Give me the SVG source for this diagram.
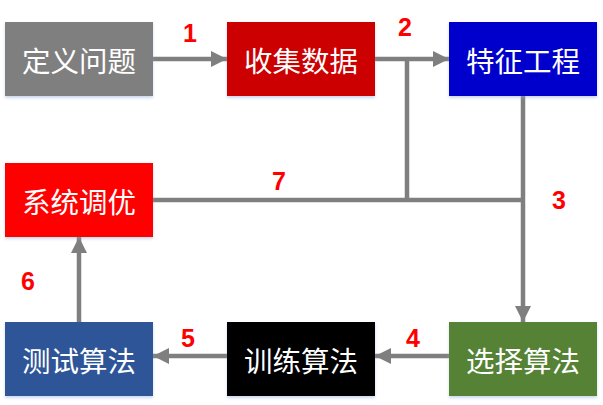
<svg xmlns="http://www.w3.org/2000/svg" width="603" height="405" viewBox="0 0 603 405">
<defs>
<filter id="sh" x="-10%" y="-10%" width="120%" height="130%">
<feDropShadow dx="0" dy="2" stdDeviation="1.5" flood-color="#8fa8d8" flood-opacity="0.45"/>
</filter>
<marker id="ah" markerWidth="16" markerHeight="16" viewBox="0 0 16 16" refX="16" refY="8" orient="auto" markerUnits="userSpaceOnUse">
<path d="M0,0 L16,8 L0,16 Z" fill="#7f7f7f"/>
</marker>
</defs>
<style>
.box{filter:url(#sh)}
.t{font-family:"Noto Sans CJK SC","Liberation Sans",sans-serif;font-size:28.5px;fill:#fff;text-anchor:middle;dominant-baseline:central}
.n{font-family:"Liberation Sans",Arial,sans-serif;font-weight:bold;font-size:25px;fill:#ff0000;text-anchor:middle}
.c{stroke:#7f7f7f;stroke-width:4.5;fill:none}
</style>
<g id="connectors">
<line class="c" x1="153" y1="59" x2="227" y2="59" marker-end="url(#ah)"/>
<line class="c" x1="375" y1="59" x2="449" y2="59" marker-end="url(#ah)"/>
<line class="c" x1="407" y1="59" x2="407" y2="200"/>
<line class="c" x1="153" y1="200" x2="523" y2="200"/>
<line class="c" x1="523" y1="96" x2="523" y2="322" marker-end="url(#ah)"/>
<line class="c" x1="449" y1="356" x2="375" y2="356" marker-end="url(#ah)"/>
<line class="c" x1="227" y1="356" x2="153" y2="356" marker-end="url(#ah)"/>
<line class="c" x1="79" y1="322" x2="79" y2="237" marker-end="url(#ah)"/>
</g>
<g id="labels">
<text class="n" x="190" y="42">1</text>
<text class="n" x="405" y="36">2</text>
<text class="n" x="559" y="209">3</text>
<text class="n" x="413" y="347">4</text>
<text class="n" x="188" y="347">5</text>
<text class="n" x="28" y="290">6</text>
<text class="n" x="279" y="190">7</text>
</g>
<g id="n1"><rect class="box" x="5" y="22" width="148" height="74" fill="#7f7f7f"/><text class="t" x="79" y="59">定义问题</text></g>
<g id="n2"><rect class="box" x="227" y="22" width="148" height="74" fill="#cc0000"/><text class="t" x="301" y="59">收集数据</text></g>
<g id="n3"><rect class="box" x="449" y="22" width="148" height="74" fill="#0000cc"/><text class="t" x="523" y="59">特征工程</text></g>
<g id="n7"><rect class="box" x="5" y="163" width="148" height="74" fill="#ff0000"/><text class="t" x="79" y="200">系统调优</text></g>
<g id="n6"><rect class="box" x="5" y="322" width="148" height="74" fill="#2f5597"/><text class="t" x="79" y="359">测试算法</text></g>
<g id="n5"><rect class="box" x="227" y="322" width="148" height="74" fill="#000000"/><text class="t" x="301" y="359">训练算法</text></g>
<g id="n4"><rect class="box" x="449" y="322" width="148" height="74" fill="#548235"/><text class="t" x="523" y="359">选择算法</text></g>
</svg>
